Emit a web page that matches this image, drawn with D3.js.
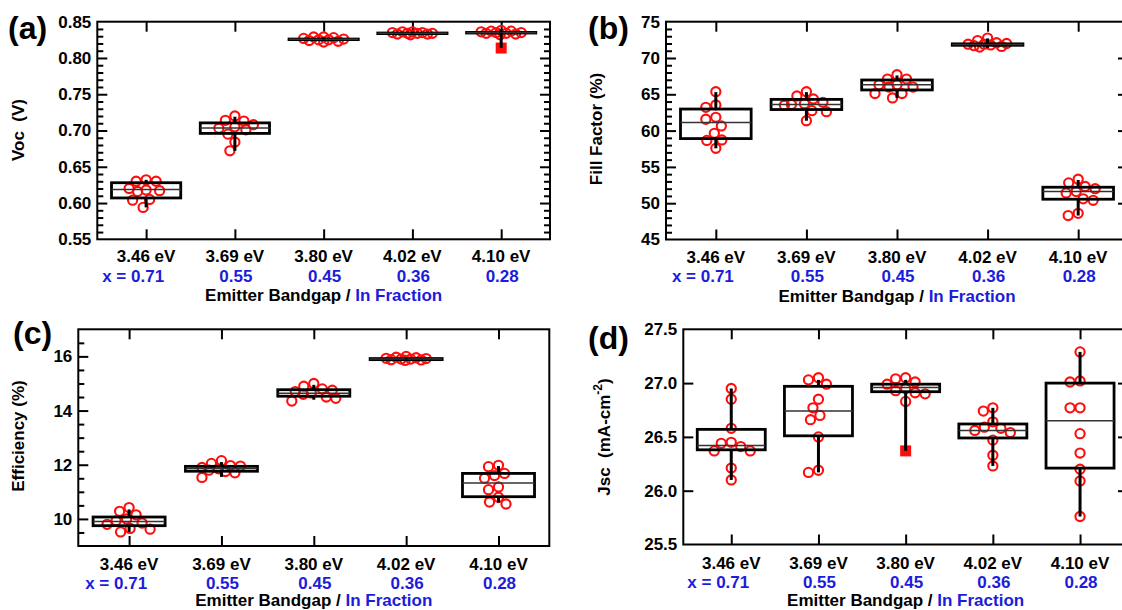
<!DOCTYPE html>
<html>
<head>
<meta charset="utf-8">
<script src="https://cdn.jsdelivr.net/npm/d3@7"></script>
<style>
  html, body { margin: 0; padding: 0; background: #fff; }
  svg { display: block; }
  text { font-family: "Liberation Sans", Arial, Helvetica, sans-serif; font-weight: bold; white-space: pre; }
</style>
</head>
<body>
<svg id="chart" width="1122" height="610"></svg>
<script>
// ---- shared category labels ----
const bandgaps = ["3.46 eV", "3.69 eV", "3.80 eV", "4.02 eV", "4.10 eV"];
const inFractions = ["x = 0.71", "0.55", "0.45", "0.36", "0.28"];

// ---- (a) open-circuit voltage, V ----
const vocPoints = [
  [0.632, 0.630, 0.630, 0.620, 0.618, 0.617, 0.616, 0.605, 0.604, 0.594],
  [0.720, 0.714, 0.713, 0.708, 0.705, 0.703, 0.701, 0.695, 0.684, 0.672],
  [0.829, 0.829, 0.828, 0.827, 0.826, 0.825, 0.825, 0.824, 0.823, 0.822],
  [0.836, 0.836, 0.835, 0.835, 0.834, 0.834, 0.834, 0.833, 0.833, 0.832],
  [0.838, 0.837, 0.837, 0.836, 0.835, 0.835, 0.834, 0.834, 0.833, 0.832]
];
const vocOutliers = [[], [], [], [], [0.8137]];
// [whisker low, Q1, median, Q3, whisker high]
const vocBoxes = [
  [0.594, 0.607, 0.6185, 0.628, 0.632],
  [0.672, 0.696, 0.7036, 0.7105, 0.719],
  [0.8235, 0.8253, 0.8257, 0.8261, 0.8285],
  [0.8325, 0.8336, 0.834, 0.8344, 0.8358],
  [0.8137, 0.8344, 0.8348, 0.8352, 0.8395]
];

// ---- (b) fill factor, % ----
const ffPoints = [
  [65.36, 63.53, 63.2, 61.83, 61.56, 60.64, 59.63, 58.71, 58.65, 57.56],
  [65.36, 64.77, 64.35, 63.9, 63.7, 63.6, 63.5, 62.75, 62.6, 61.36],
  [67.7, 67.1, 67.1, 66.3, 66.3, 66.0, 66.0, 65.1, 65.1, 64.5],
  [72.75, 72.4, 72.1, 72.0, 71.9, 71.9, 71.8, 71.7, 71.6, 71.5],
  [53.3, 52.8, 52.3, 52.0, 51.6, 51.4, 50.6, 50.4, 48.6, 48.3]
];
const ffOutliers = [[], [], [], [], []];
const ffBoxes = [
  [57.56, 58.9, 61.1, 62.97, 65.3],
  [61.36, 62.9, 63.6, 64.3, 65.3],
  [64.5, 65.6, 66.3, 66.97, 67.6],
  [71.4, 71.75, 71.85, 71.95, 72.7],
  [48.3, 50.55, 51.6, 52.2, 53.2]
];

// ---- (c) efficiency, % ----
const effPoints = [
  [10.42, 10.28, 10.15, 10.0, 9.93, 9.85, 9.8, 9.65, 9.62, 9.52],
  [12.15, 12.05, 11.97, 11.95, 11.9, 11.85, 11.8, 11.75, 11.7, 11.53],
  [15.0, 14.9, 14.8, 14.75, 14.7, 14.65, 14.6, 14.5, 14.45, 14.35],
  [16.0, 15.97, 15.95, 15.93, 15.92, 15.9, 15.9, 15.88, 15.87, 15.85],
  [11.98, 11.93, 11.68, 11.6, 11.5, 11.18, 11.08, 10.8, 10.62, 10.55]
];
const effOutliers = [[], [], [], [], []];
const effBoxes = [
  [9.52, 9.75, 9.9, 10.07, 10.35],
  [11.55, 11.76, 11.86, 11.94, 12.1],
  [14.4, 14.53, 14.64, 14.77, 14.95],
  [15.85, 15.88, 15.9, 15.92, 15.97],
  [10.6, 10.82, 11.33, 11.68, 11.95]
];

// ---- (d) short-circuit current density, mA/cm^2 ----
const jscPoints = [
  [26.95, 26.85, 26.58, 26.45, 26.44, 26.41, 26.37, 26.37, 26.21, 26.1],
  [27.05, 27.03, 26.99, 26.85, 26.77, 26.70, 26.66, 26.50, 26.19, 26.17],
  [27.05, 27.04, 27.01, 26.99, 26.95, 26.93, 26.91, 26.9, 26.83],
  [26.77, 26.74, 26.64, 26.59, 26.58, 26.56, 26.54, 26.47, 26.33, 26.23],
  [27.29, 27.02, 27.01, 26.77, 26.77, 26.53, 26.35, 26.2, 26.09, 25.76]
];
const jscOutliers = [[], [], [26.37], [], []];
const jscBoxes = [
  [26.1, 26.38, 26.42, 26.57, 26.95],
  [26.17, 26.51, 26.74, 26.97, 27.03],
  [26.37, 26.92, 26.96, 26.99, 27.03],
  [26.23, 26.49, 26.56, 26.62, 26.77],
  [25.76, 26.21, 26.65, 27.0, 27.29]
];

// ---- axis ranges and tick steps ----
const vocAxis = { domain: [0.55, 0.85], major: 0.05, minor: 0.01, format: ".2f" };
const ffAxis  = { domain: [45, 75],     major: 5,    minor: 1,    format: "d" };
const effAxis = { domain: [9, 17],      major: 2,    minor: 0.5,  format: "d" };
const jscAxis = { domain: [25.5, 27.5], major: 0.5,  minor: null, format: ".1f" };

// ---- panel layout ----
const panels = [
  { tag: "(a)", points: vocPoints, boxes: vocBoxes, outliers: vocOutliers, axis: vocAxis,
    frame: { l: 97.3, r: 550, t: 21.7, b: 239.3 }, rightTicks: true,
    tagPos: [8, 38.5], titlePos: [23.5, 130], lines: [262, 281.5, 301],
    yTitle: [{ t: "Voc  (V)" }] },
  { tag: "(b)", points: ffPoints, boxes: ffBoxes, outliers: ffOutliers, axis: ffAxis,
    frame: { l: 666, r: 1128, t: 21.7, b: 239.5 }, rightTicks: true,
    tagPos: [588, 38.5], titlePos: [602, 129], lines: [262.5, 282, 301.5],
    yTitle: [{ t: "Fill Factor (%)" }] },
  { tag: "(c)", points: effPoints, boxes: effBoxes, outliers: effOutliers, axis: effAxis,
    frame: { l: 78.3, r: 549.3, t: 329.3, b: 546 }, rightTicks: false,
    tagPos: [13, 343.5], titlePos: [24.3, 436], lines: [570, 589, 606],
    yTitle: [{ t: "Efficiency (%)" }] },
  { tag: "(d)", points: jscPoints, boxes: jscBoxes, outliers: jscOutliers, axis: jscAxis,
    frame: { l: 683.3, r: 1128, t: 329.3, b: 544.5 }, rightTicks: true,
    tagPos: [588, 348.5], titlePos: [610, 437], lines: [568.5, 588, 605.5],
    yTitle: [{ t: "Jsc  (mA-cm" }, { t: "-2", sup: true }, { t: ")" }] }
];

const RED = "#ff0d0d";
const BLUE = "#1c1cdc";
const svg = d3.select("#chart");

// Swarm layout: each point goes to the offset nearest the centre that keeps
// it clear of earlier points; inside a crowded band it takes the roomiest spot.
function swarmOffsets(values, y, minDist, maxOff) {
  const placed = [];
  const cands = [0];
  for (let s = 0.5; s <= maxOff + 1e-9; s += 0.5) cands.push(-s, s);
  return values.map(v => {
    const py = y(v);
    let best = 0, bestD = -Infinity;
    for (const c of cands) {
      let d = Infinity;
      for (const p of placed) d = Math.min(d, Math.hypot(c - p[0], py - p[1]));
      if (d >= minDist) { best = c; bestD = d; break; }
      if (d > bestD + 1e-9) { bestD = d; best = c; }
    }
    placed.push([best, py]);
    return best;
  });
}

// multiples of `step` inside the domain (inclusive)
function tickValues(domain, step) {
  const i0 = Math.ceil(domain[0] / step - 1e-9), i1 = Math.floor(domain[1] / step + 1e-9);
  return d3.range(i0, i1 + 1).map(i => +(i * step).toFixed(6));
}

panels.forEach(p => {
  const f = p.frame;
  const g = svg.append("g");
  const x = d3.scalePoint().domain(bandgaps).range([f.l, f.r]).padding(0.55);
  const y = d3.scaleLinear().domain(p.axis.domain).range([f.b, f.t]);
  const step = x.step();
  const boxW = step * 0.78;

  const majors = tickValues(p.axis.domain, p.axis.major);
  const inner = v => v > p.axis.domain[0] + 1e-9 && v < p.axis.domain[1] - 1e-9;
  const minors = p.axis.minor
    ? tickValues(p.axis.domain, p.axis.minor).filter(v => inner(v) &&
        !majors.some(m => Math.abs(m - v) < 1e-9))
    : [];

  const strip = sel => sel.call(s => s.select(".domain").remove())
    .call(s => s.selectAll(".tick line").attr("stroke", "#000").attr("stroke-width", 2));

  // left axis: labelled major ticks pointing inward, plus minor ticks
  g.append("g").attr("transform", `translate(${f.l},0)`)
    .call(d3.axisLeft(y).tickValues(majors).tickSize(-10).tickSizeOuter(0)
      .tickPadding(6).tickFormat(d3.format(p.axis.format)))
    .call(strip)
    .call(s => s.selectAll(".tick").filter(d => !inner(d)).select("line").remove())
    .call(s => s.selectAll(".tick text").attr("font-size", 17).attr("fill", "#000")
      .attr("font-family", null));
  if (minors.length) {
    g.append("g").attr("transform", `translate(${f.l},0)`)
      .call(d3.axisLeft(y).tickValues(minors).tickSize(-6).tickSizeOuter(0).tickFormat(""))
      .call(strip);
  }
  // right axis mirrors the ticks without labels
  if (p.rightTicks) {
    g.append("g").attr("transform", `translate(${f.r},0)`)
      .call(d3.axisRight(y).tickValues(majors.filter(inner)).tickSize(-10).tickSizeOuter(0).tickFormat(""))
      .call(strip);
    if (minors.length) {
      g.append("g").attr("transform", `translate(${f.r},0)`)
        .call(d3.axisRight(y).tickValues(minors).tickSize(-6).tickSizeOuter(0).tickFormat(""))
        .call(strip);
    }
  }
  // top and bottom category ticks
  g.append("g").attr("transform", `translate(0,${f.t})`)
    .call(d3.axisTop(x).tickSize(-10).tickSizeOuter(0).tickFormat(""))
    .call(strip);
  g.append("g").attr("transform", `translate(0,${f.b})`)
    .call(d3.axisBottom(x).tickSize(-10).tickSizeOuter(0).tickFormat(""))
    .call(strip);

  // frame
  g.append("rect").attr("x", f.l).attr("y", f.t)
    .attr("width", f.r - f.l).attr("height", f.b - f.t)
    .attr("fill", "none").attr("stroke", "#000").attr("stroke-width", 2);

  // data points (open circles) laid out as a swarm around each category
  p.points.forEach((vals, i) => {
    const cx = x(bandgaps[i]);
    const offs = swarmOffsets(vals, y, 10, 22);
    g.append("g").selectAll("circle").data(vals).join("circle")
      .attr("cx", (d, k) => cx + offs[k]).attr("cy", d => y(d)).attr("r", 4.6)
      .attr("fill", "none").attr("stroke", RED).attr("stroke-width", 2.1);
    g.append("g").selectAll("rect").data(p.outliers[i]).join("rect")
      .attr("x", cx - 5.5).attr("y", d => y(d) - 5.5)
      .attr("width", 11).attr("height", 11).attr("fill", RED);
  });

  // boxes, medians and whiskers
  p.boxes.forEach((bx, i) => {
    const [lo, q1, med, q3, hi] = bx;
    const cx = x(bandgaps[i]);
    g.append("rect").attr("x", cx - boxW / 2).attr("y", y(q3))
      .attr("width", boxW).attr("height", Math.max(0, y(q1) - y(q3)))
      .attr("fill", "none").attr("stroke", "#000").attr("stroke-width", 2.8);
    g.append("line").attr("x1", cx - boxW / 2).attr("x2", cx + boxW / 2)
      .attr("y1", y(med)).attr("y2", y(med))
      .attr("stroke", "#333").attr("stroke-width", 1.5);
    g.append("line").attr("x1", cx).attr("x2", cx).attr("y1", y(q3)).attr("y2", y(hi))
      .attr("stroke", "#000").attr("stroke-width", 3);
    g.append("line").attr("x1", cx).attr("x2", cx).attr("y1", y(q1)).attr("y2", y(lo))
      .attr("stroke", "#000").attr("stroke-width", 3);
  });

  // category labels: bandgap, In fraction, axis title
  bandgaps.forEach((b, i) => {
    const cx = x(b);
    g.append("text").attr("x", cx).attr("y", p.lines[0]).attr("text-anchor", "middle")
      .attr("font-size", 17).attr("fill", "#000").text(b);
    g.append("text").attr("x", i === 0 ? cx + 18 : cx + 1).attr("y", p.lines[1])
      .attr("text-anchor", i === 0 ? "end" : "middle")
      .attr("font-size", 17).attr("fill", BLUE).text(inFractions[i]);
  });
  const xt = g.append("text").attr("x", (f.l + f.r) / 2).attr("y", p.lines[2])
    .attr("text-anchor", "middle").attr("font-size", 17);
  xt.append("tspan").attr("fill", "#000").text("Emitter Bandgap / ");
  xt.append("tspan").attr("fill", BLUE).text("In Fraction");

  // y-axis title
  const yt = g.append("text")
    .attr("transform", `translate(${p.titlePos[0]},${p.titlePos[1]}) rotate(-90)`)
    .attr("text-anchor", "middle").attr("font-size", 17).attr("fill", "#000");
  p.yTitle.forEach((part, k) => {
    const ts = yt.append("tspan").text(part.t);
    if (part.sup) ts.attr("font-size", 12).attr("dy", -8);
    else if (k > 0 && p.yTitle[k - 1].sup) ts.attr("dy", 8);
  });

  // panel tag
  g.append("text").attr("x", p.tagPos[0]).attr("y", p.tagPos[1])
    .attr("font-size", 32).attr("fill", "#000").text(p.tag);
});
</script>
</body>
</html>
